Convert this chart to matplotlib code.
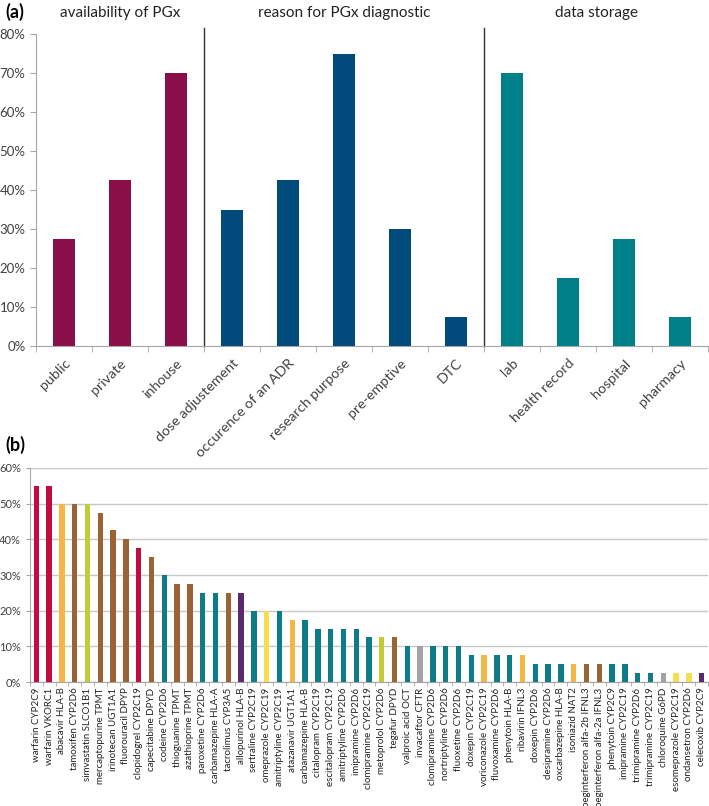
import numpy as np
import matplotlib
matplotlib.use('Agg')
import matplotlib.pyplot as plt
from matplotlib.ticker import PercentFormatter

plt.rcParams['font.family'] = ['Lato', 'DejaVu Sans']

# panel (a) data
groups = ['availability of PGx', 'reason for PGx diagnostic', 'data storage']
cats_a = ['public', 'private', 'inhouse',
          'dose adjustement', 'occurence of an ADR', 'research purpose', 'pre-emptive', 'DTC',
          'lab', 'health record', 'hospital', 'pharmacy']
vals_a = [27.5, 42.5, 70, 35, 42.5, 75, 30, 7.5, 70, 17.5, 27.5, 7.5]
group_of_a = [0, 0, 0, 1, 1, 1, 1, 1, 2, 2, 2, 2]
group_colors = ['#8A0F48', '#004B7B', '#00818A']

# panel (b) data
drugs = ['warfarin CYP2C9', 'warfarin VKORC1', 'abacavir HLA-B', 'tamoxifen CYP2D6',
         'simvastatin SLCO1B1', 'mercaptopurine TPMT', 'irinotecan UGT1A1', 'fluorouracil DPYP',
         'clopidogrel CYP2C19', 'capecitabine DPYD', 'codeine CYP2D6', 'thioguanine TPMT',
         'azathioprine TPMT', 'paroxetine CYP2D6', 'carbamazepine HLA-A', 'tacrolimus CYP3A5',
         'allopurinol HLA-B', 'sertraline CYP2C19', 'omeprazole CYP2C19', 'amitriptyline CYP2C19',
         'atazanavir UGT1A1', 'carbamazepine HLA-B', 'citalopram CYP2C19', 'escitalopram CYP2C19',
         'amitriptyline CYP2D6', 'imipramine CYP2D6', 'clomipramine CYP2C19', 'metoprolol CYP2D6',
         'tegafur DPYD', 'valproic acid OCT', 'invacaftor CFTR', 'clomipramine CYP2D6',
         'nortriptyline CYP2D6', 'fluoxetine CYP2D6', 'doxepin CYP2C19', 'voriconazole CYP2C19',
         'fluvoxamine CYP2D6', 'phenytoin HLA-B', 'ribavirin IFNL3', 'doxepin CYP2D6',
         'desipramine CYP2D6', 'oxcarbazepine HLA-B', 'isoniazid NAT2',
         'peginterferon alfa-2b IFNL3', 'peginterferon alfa-2a IFNL3', 'phenytoin CYP2C9',
         'imipramine CYP2C19', 'trimipramine CYP2D6', 'trimipramine CYP2C19', 'chloroquine G6PD',
         'esomeprazole CYP2C19', 'ondansetron CYP2D6', 'celecoxib CYP2C9']
vals_b = [55, 55, 50, 50, 50, 47.5, 42.5, 40, 37.5, 35, 30, 27.5, 27.5, 25, 25, 25, 25,
          20, 20, 20, 17.5, 17.5, 15, 15, 15, 15, 12.5, 12.5, 12.5, 10, 10, 10, 10, 10,
          7.5, 7.5, 7.5, 7.5, 7.5, 5, 5, 5, 5, 5, 5, 5, 5, 2.5, 2.5, 2.5, 2.5, 2.5, 2.5]
kind_b = ['red', 'red', 'orange', 'brown', 'lime', 'brown', 'brown', 'brown', 'red', 'brown',
          'teal', 'brown', 'brown', 'teal', 'teal', 'brown', 'purple', 'teal', 'yellow', 'teal',
          'orange', 'teal', 'teal', 'teal', 'teal', 'teal', 'teal', 'lime', 'brown', 'teal',
          'gray', 'teal', 'teal', 'teal', 'teal', 'orange', 'teal', 'teal', 'orange', 'teal',
          'teal', 'teal', 'orange', 'brown', 'brown', 'teal', 'teal', 'teal', 'teal', 'gray',
          'yellow', 'yellow', 'purple']
palette = {'red': '#C20C40', 'orange': '#F2B745', 'brown': '#9A6336', 'lime': '#C2CC3B',
           'teal': '#0E7C86', 'purple': '#5A2A6E', 'yellow': '#F6DF4C', 'gray': '#A3A3A3'}

fig = plt.figure(figsize=(7.09, 8.06), dpi=100)
txt = '#404040'
axc = '#A6A6A6'

# ---------- (a) ----------
ax1 = fig.add_axes([0.0508, 0.5707, 0.9478, 0.3871])
x = np.arange(len(cats_a))
ax1.bar(x, vals_a, 0.4, color=[group_colors[g] for g in group_of_a])
ax1.set_xlim(-0.5, len(cats_a) - 0.5)
ax1.set_ylim(0, 80)
ax1.set_yticks(range(0, 81, 10))
ax1.yaxis.set_major_formatter(PercentFormatter(decimals=0))
ax1.set_xticks(x)
ax1.set_xticklabels(cats_a, rotation=45, ha='right', rotation_mode='anchor', fontsize=10.3, color=txt)
ax1.set_xticks(np.arange(-0.5, len(cats_a)), minor=True)
ax1.tick_params(axis='x', which='major', length=0, pad=8)
ax1.tick_params(axis='x', which='minor', length=4, color=axc, direction='out')
ax1.tick_params(axis='y', length=4, color=axc, labelsize=9.5, labelcolor=txt)
for s in ['top', 'right']:
    ax1.spines[s].set_visible(False)
for s in ['left', 'bottom']:
    ax1.spines[s].set_color(axc)

for b in [2.5, 7.5]:
    ax1.plot([b, b], [0, 81.5], color='#303030', lw=1, clip_on=False)

bounds = [(-0.5, 2.5), (2.5, 7.5), (7.5, 11.5)]
for name, (l, r) in zip(groups, bounds):
    ax1.text((l + r) / 2, 85.5, name, ha='center', va='center', fontsize=11, color='#222222')

fig.text(0.007, 0.985, '(a)', fontsize=13, fontweight='bold', va='center', ha='left')

# ---------- (b) ----------
ax2 = fig.add_axes([0.0423, 0.1538, 0.9563, 0.2656])
xb = np.arange(len(drugs))
ax2.bar(xb, vals_b, 0.42, color=[palette[k] for k in kind_b], zorder=3)
ax2.set_xlim(-0.5, len(drugs) - 0.5)
ax2.set_ylim(0, 60)
ax2.set_yticks(range(0, 61, 10))
ax2.yaxis.set_major_formatter(PercentFormatter(decimals=0))
ax2.grid(axis='y', color='#C8C8C8', lw=1, zorder=0)
ax2.set_xticks(xb)
ax2.set_xticklabels(drugs, rotation=90, fontsize=7.0, color='#222222')
ax2.set_xticks(np.arange(-0.5, len(drugs)), minor=True)
ax2.tick_params(axis='x', which='major', length=0, pad=4)
ax2.tick_params(axis='x', which='minor', length=3, color=axc)
ax2.tick_params(axis='y', length=3, color=axc, labelsize=8, labelcolor=txt)
for s in ['top', 'right']:
    ax2.spines[s].set_visible(False)
for s in ['left', 'bottom']:
    ax2.spines[s].set_color(axc)

fig.text(0.007, 0.448, '(b)', fontsize=13, fontweight='bold', va='center', ha='left')

fig.savefig('out.png', dpi=100)
